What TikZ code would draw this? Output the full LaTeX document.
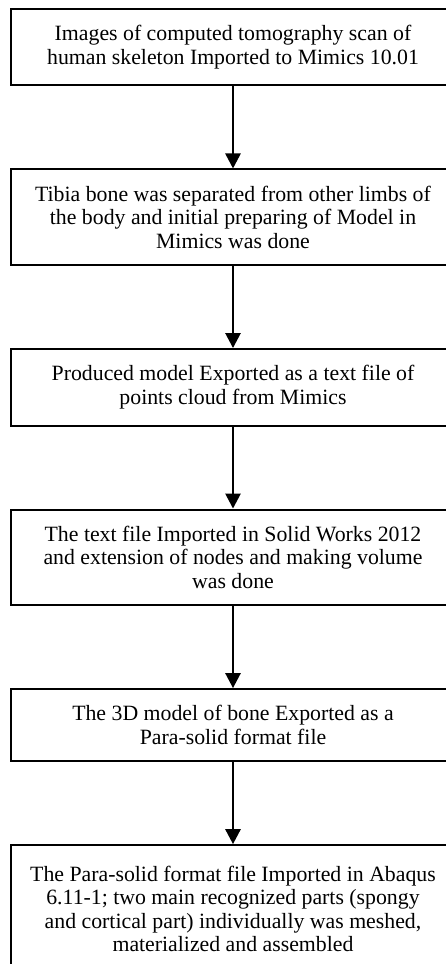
\documentclass[tikz,border=0pt]{standalone}
\usepackage{fontspec}
\setmainfont{Liberation Serif}
\usetikzlibrary{positioning,arrows.meta}

\begin{document}
\begin{tikzpicture}[
		x=1pt, y=1pt,
		node distance=82pt,
		stage/.style={draw, line width=2pt, minimum width=444pt, inner ysep=16.5pt,
			align=center, font=\fontsize{21.8}{23.5}\selectfont},
		flow/.style={line width=2.6pt, -{Triangle[width=15pt,length=15pt]}},
%		stage/.append style={fill=white}
		]
		\clip (0,0) rectangle (446,-964);
		\node[stage, below right] (import) at (10,-8) {Images of computed tomography scan of\\human skeleton Imported to Mimics 10.01};
		\node[stage, below=of import] (tibia) {Tibia bone was separated from other limbs of\\the body and initial preparing of Model in\\Mimics was done};
		\node[stage, below=of tibia] (cloud) {Produced model Exported as a text file of\\points cloud from Mimics};
		\node[stage, below=of cloud] (solidworks) {The text file Imported in Solid Works 2012\\and extension of nodes and making volume\\was done};
		\node[stage, below=of solidworks] (parasolid) {The 3D model of bone Exported as a\\Para-solid format file};
		\node[stage, below=of parasolid, minimum height=128pt] (abaqus) {The Para-solid format file Imported in Abaqus\\6.11-1; two main recognized parts (spongy\\and cortical part) individually was meshed,\\materialized and assembled};
		\draw[flow] (import) -- (tibia);
		\draw[flow] (tibia) -- (cloud);
		\draw[flow] (cloud) -- (solidworks);
		\draw[flow] (solidworks) -- (parasolid);
		\draw[flow] (parasolid) -- (abaqus);
\end{tikzpicture}
\end{document}
